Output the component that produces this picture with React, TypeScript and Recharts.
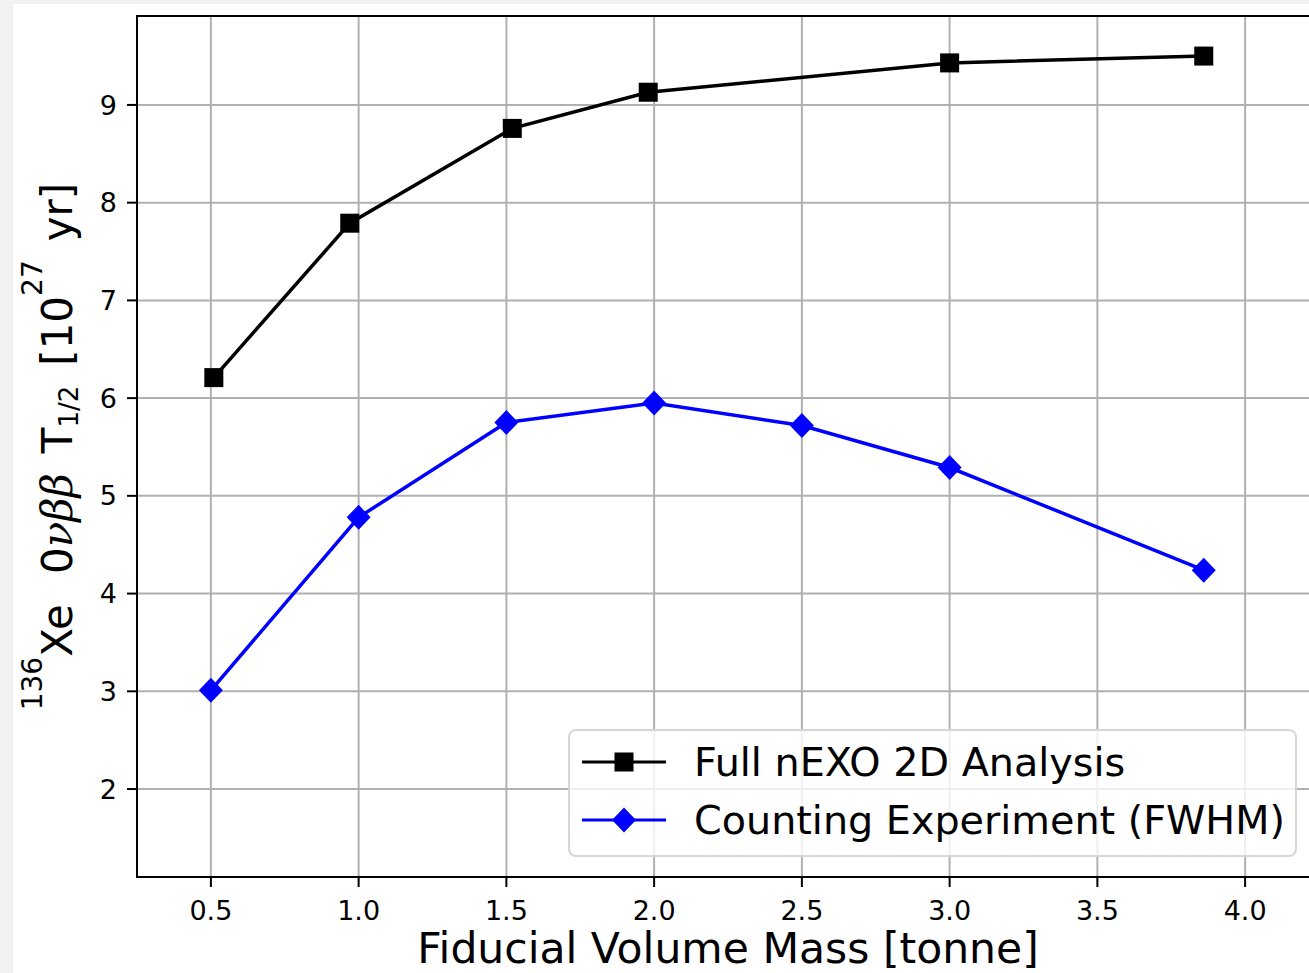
import * as React from 'react';
import {
    LineChart, Line, XAxis, YAxis, CartesianGrid, Legend, ReferenceArea, Label
} from 'recharts';

// Full nEXO 2D analysis
const massFull = [0.51, 0.97, 1.52, 1.98, 3.0, 3.86];
const halfLifeFull = [6.21, 7.79, 8.76, 9.13, 9.43, 9.5];

// Counting experiment (FWHM)
const massCounting = [0.5, 1.0, 1.5, 2.0, 2.5, 3.0, 3.86];
const halfLifeCounting = [3.01, 4.78, 5.75, 5.95, 5.72, 5.29, 4.24];

const xTicks = [0.5, 1.0, 1.5, 2.0, 2.5, 3.0, 3.5, 4.0];
const yTicks = [2, 3, 4, 5, 6, 7, 8, 9];

const seriesNames = ['Full nEXO 2D Analysis', 'Counting Experiment (FWHM)'];

const FONT = '"DejaVu Sans", sans-serif';
const BLUE = '#0000ff';

const fullData = massFull.map((x, i) => ({ x, y: halfLifeFull[i] }));
const countingData = massCounting.map((x, i) => ({ x, y: halfLifeCounting[i] }));

// recharts hands a white fill to dots, so the colour is fixed here
const Square = ({ cx, cy }: any) => {
    if (cx == null || cy == null) return null;
    return <rect x={cx - 9.5} y={cy - 9.5} width={19} height={19} fill="#000" />;
};

const Diamond = ({ cx, cy }: any) => {
    if (cx == null || cy == null) return null;
    return <polygon points={`${cx},${cy - 12.5} ${cx + 12},${cy} ${cx},${cy + 12.5} ${cx - 12},${cy}`} fill={BLUE} />;
};

const YLabel = ({ viewBox }: any) => {
    const cy = viewBox ? viewBox.y + viewBox.height / 2 : 447;
    return (
        <text transform={`translate(72, ${cy}) rotate(-90)`} textAnchor="middle" fontFamily={FONT} fontSize={42} fill="#000">
            <tspan fontSize={28} dy={-30}>136</tspan>
            <tspan dy={30}>Xe</tspan>
            <tspan dx={30}>0</tspan>
            <tspan fontFamily='"DejaVu Serif", serif' fontStyle="italic">νββ</tspan>
            <tspan dx={20}>T</tspan>
            <tspan fontSize={26} dy={6}>1/2</tspan>
            <tspan dx={20} dy={-6}>[10</tspan>
            <tspan fontSize={28} dy={-30}>27</tspan>
            <tspan dx={19} dy={30}>yr]</tspan>
        </text>
    );
};

const renderLegend = () => {
    const icons = [
        <Square cx={42} cy={15} />,
        <Diamond cx={42} cy={15} />,
    ];
    const colors = ['#000', BLUE];
    return (
        <div style={{
            width: 725, height: 124, border: '2px solid #d6d6d6', borderRadius: 8,
            background: 'rgba(255,255,255,0.8)', boxSizing: 'content-box', fontFamily: FONT,
        }}>
            {seriesNames.map((name, i) => (
                <div key={name} style={{ position: 'absolute', left: 14, top: 16 + i * 58, height: 34, display: 'flex', alignItems: 'center' }}>
                    <svg width={84} height={30} style={{ display: 'block' }}>
                        <line x1={0} y1={15} x2={84} y2={15} stroke={colors[i]} strokeWidth={3} />
                        {icons[i]}
                    </svg>
                    <span style={{ marginLeft: 28, fontSize: 39.7, color: '#000', lineHeight: '34px', whiteSpace: 'nowrap' }}>{name}</span>
                </div>
            ))}
        </div>
    );
};

export default function App() {
    return (
        <div style={{ position: 'absolute', left: 0, top: 0, width: 1309, height: 973, background: '#f2f2f2', overflow: 'hidden' }}>
            <div style={{ position: 'absolute', left: 13, top: 4, width: 1296, height: 969, background: '#fff' }} />
            <div style={{ position: 'absolute', left: 0, top: 0 }}>
                <LineChart width={1340} height={973} margin={{ top: 16, right: 21, bottom: 0, left: 0 }}>
                    <CartesianGrid stroke="#b0b0b0" strokeWidth={2} />
                    <ReferenceArea x1={0.25} x2={4.25} y1={1.1} y2={9.91} fill="none" stroke="#000" strokeWidth={2} fillOpacity={0} />
                    <XAxis
                        dataKey="x" type="number" domain={[0.25, 4.25]} ticks={xTicks}
                        tickFormatter={(v: number) => v.toFixed(1)} allowDataOverflow
                        height={96} tickSize={10} tickMargin={14}
                        axisLine={{ stroke: '#000', strokeWidth: 2 }} tickLine={{ stroke: '#000', strokeWidth: 2 }}
                        tick={{ fontSize: 27, fill: '#000', fontFamily: FONT }}
                    >
                        <Label value="Fiducial Volume Mass [tonne]" position="insideBottom" offset={10} fontSize={42.5} fill="#000" fontFamily={FONT} />
                    </XAxis>
                    <YAxis
                        type="number" domain={[1.1, 9.91]} ticks={yTicks} allowDataOverflow
                        width={137} tickSize={10} tickMargin={10}
                        axisLine={{ stroke: '#000', strokeWidth: 2 }} tickLine={{ stroke: '#000', strokeWidth: 2 }}
                        tick={{ fontSize: 27, fill: '#000', fontFamily: FONT }}
                    >
                        <Label content={<YLabel />} />
                    </YAxis>
                    <Legend
                        content={renderLegend} layout="horizontal" verticalAlign="middle" align="center"
                        wrapperStyle={{ left: 568, top: 729, width: 729, height: 128 }}
                    />
                    <Line data={fullData} dataKey="y" name={seriesNames[0]} type="linear" stroke="#000" strokeWidth={3.5}
                        dot={<Square />} activeDot={false} isAnimationActive={false} />
                    <Line data={countingData} dataKey="y" name={seriesNames[1]} type="linear" stroke={BLUE} strokeWidth={3.5}
                        dot={<Diamond />} activeDot={false} isAnimationActive={false} />
                </LineChart>
            </div>
        </div>
    );
}
